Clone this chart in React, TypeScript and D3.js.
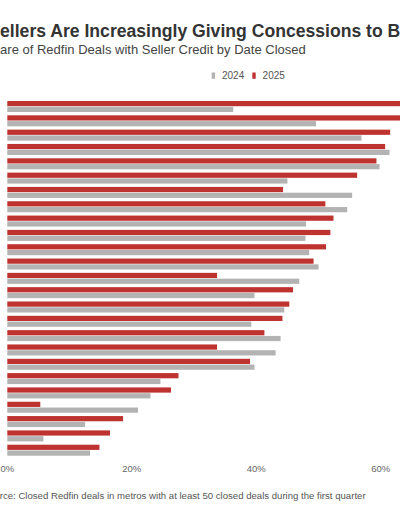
import React from "react";
import * as d3 from "d3";

// Metro rows (names are cropped out of the reference view)
const metros: string[] = Array.from({ length: 25 }, (_, i) => `Metro ${i + 1}`);

const share2025: number[] = [
  66.0, 64.5, 61.5, 60.7, 59.3, 56.2, 44.3, 51.1, 52.4, 51.9, 51.2, 49.2, 33.7,
  45.9, 45.3, 44.2, 41.3, 33.7, 39.0, 27.5, 26.3, 5.3, 18.6, 16.5, 14.8,
];
const share2024: number[] = [
  36.3, 49.6, 56.9, 61.4, 59.8, 45.0, 55.4, 54.6, 48.0, 47.9, 48.5, 50.0, 46.9,
  39.7, 44.5, 39.2, 43.9, 43.1, 39.7, 24.6, 23.0, 21.0, 12.5, 5.8, 13.3,
];

const seriesKeys = ["2025", "2024"];
const legendKeys = ["2024", "2025"];
const xTicks: number[] = [0, 20, 40, 60];

const title = "Sellers Are Increasingly Giving Concessions to Buyers";
const subtitle = "Share of Redfin Deals with Seller Credit by Date Closed";
const source =
  "Source: Closed Redfin deals in metros with at least 50 closed deals during the first quarter";

const colors: Record<string, string> = { "2024": "#b3b3b3", "2025": "#be3330" };
const FONT = "'Liberation Sans', Arial, Helvetica, sans-serif";

export default function App() {
  const W = 400;
  const H = 516;

  const x = d3.scaleLinear().domain([0, 60]).range([7.3, 7.3 + 60 * 6.225]);
  const y0 = d3
    .scaleBand<string>()
    .domain(metros)
    .range([101, 455.7])
    .paddingInner(0.232)
    .paddingOuter(0);
  const y1 = d3
    .scaleBand<string>()
    .domain(seriesKeys)
    .range([0, y0.bandwidth()])
    .paddingInner(0.1);

  const valueOf = (key: string, i: number) =>
    key === "2025" ? share2025[i] : share2024[i];

  const legendX: Record<string, number> = { "2024": 211.7, "2025": 252.3 };

  return (
    <svg
      width={W}
      height={H}
      style={{ position: "absolute", left: 0, top: 0, background: "#fff" }}
      fontFamily={FONT}
    >
      <rect x={0} y={0} width={W} height={H} fill="#fff" />
      <text x={-11.7} y={36.5} fontSize={17.6} fontWeight="bold" fill="#333">
        {title}
      </text>
      <text x={-15.8} y={53.5} fontSize={13} fill="#444">
        {subtitle}
      </text>

      {legendKeys.map((k) => (
        <g key={k}>
          <rect
            x={legendX[k]}
            y={72.5}
            width={3.4}
            height={6.3}
            fill={colors[k]}
          />
          <text x={legendX[k] + 10.3} y={79.3} fontSize={10} fill="#555">
            {k}
          </text>
        </g>
      ))}

      {metros.map((m, i) => (
        <g key={m} transform={`translate(0,${y0(m)})`}>
          {seriesKeys.map((k) => (
            <rect
              key={k}
              x={x(0)}
              y={y1(k)}
              width={x(valueOf(k, i)) - x(0)}
              height={y1.bandwidth()}
              fill={colors[k]}
            />
          ))}
        </g>
      ))}

      {xTicks.map((t) => (
        <text
          key={t}
          x={x(t)}
          y={472}
          fontSize={9.5}
          fill="#666"
          textAnchor="middle"
        >
          {`${t}%`}
        </text>
      ))}

      <text x={-17.3} y={499} fontSize={9.6} fill="#555">
        {source}
      </text>
    </svg>
  );
}
